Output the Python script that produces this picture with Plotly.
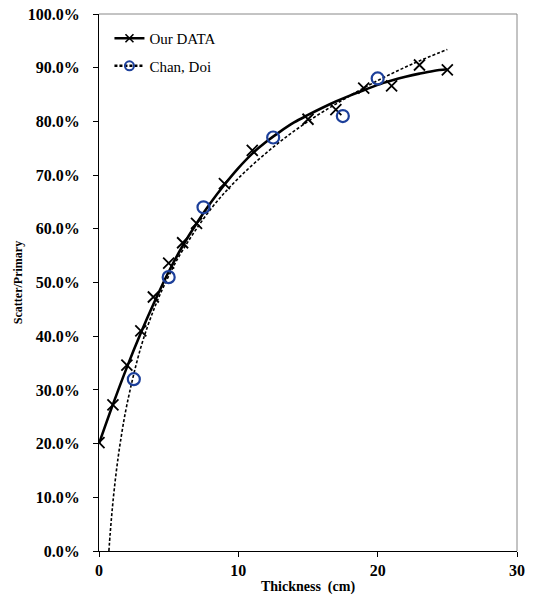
import plotly.graph_objects as go

# Our DATA measured points (thickness cm, scatter/primary %)
our_x = [0, 1, 2, 3, 3.9, 5, 6, 7, 9, 11, 15, 17, 19, 21, 23, 25]
our_y = [20.2, 27.2, 34.6, 41.0, 47.3, 53.6, 57.4, 61.0, 68.4, 74.6, 80.4, 82.2, 86.2, 86.6, 90.5, 89.6]

# Our DATA fitted curve
our_fit_x = [0, 1, 2, 3, 4, 5, 6, 7, 8, 9, 10, 11, 12, 13, 14, 15, 16, 17, 18, 19, 20, 21, 22, 23, 24, 25]
our_fit_y = [20.0, 27.3, 34.2, 40.6, 46.5, 52.0, 56.8, 61.0, 64.8, 68.2, 71.3, 74.0, 76.2,
             78.1, 79.8, 81.2, 82.5, 83.7, 84.8, 85.8, 86.8, 87.6, 88.3, 88.9, 89.4, 89.7]

# Chan, Doi points
chan_x = [2.5, 5, 7.5, 12.5, 17.5, 20]
chan_y = [32.0, 51.0, 64.0, 77.0, 81.0, 88.0]

# Chan, Doi fitted curve
chan_fit_x = [0.71, 0.8, 0.9, 1.0, 1.2, 1.5, 2, 3, 4, 5, 6, 8, 10, 12.5, 15, 17.5, 20, 22.5, 25]
chan_fit_y = [0.0, 3.2, 6.3, 9.1, 13.9, 19.7, 27.2, 37.9, 45.4, 51.2, 56.0, 63.6, 69.4, 75.2,
              80.0, 84.0, 87.6, 90.7, 93.4]

x_ticks = [0, 10, 20, 30]
y_ticks = [0, 10, 20, 30, 40, 50, 60, 70, 80, 90, 100]

BLUE = "#1c3f9a"
SERIF = "Liberation Serif, Times New Roman, serif"

fig = go.Figure()

fig.add_trace(go.Scatter(x=chan_fit_x, y=chan_fit_y, mode="lines", line_shape="spline",
                         line=dict(color="black", width=1.6, dash="3px,2px"), showlegend=False))
fig.add_trace(go.Scatter(x=our_fit_x, y=our_fit_y, mode="lines", line_shape="spline",
                         line=dict(color="black", width=2.6), showlegend=False))
fig.add_trace(go.Scatter(x=our_x, y=our_y, mode="markers",
                         marker=dict(symbol="x-thin", size=11, color="black",
                                     line=dict(color="black", width=1.8)), showlegend=False))
fig.add_trace(go.Scatter(x=chan_x, y=chan_y, mode="markers",
                         marker=dict(symbol="circle-open", size=12, color=BLUE,
                                     line=dict(color=BLUE, width=2.2)), showlegend=False))

# legend entries
fig.add_trace(go.Scatter(x=[None], y=[None], mode="lines+markers", name="Our DATA",
                         legendgroup="a",
                         line=dict(color="black", width=2.6),
                         marker=dict(symbol="x-thin", size=8, color="black",
                                     line=dict(color="black", width=1.6))))
fig.add_trace(go.Scatter(x=[None], y=[None], mode="lines+markers", name="Chan, Doi",
                         legendgroup="b",
                         line=dict(color="black", width=2.4, dash="3px,2px"),
                         marker=dict(symbol="circle-open", size=9, color=BLUE,
                                     line=dict(color=BLUE, width=2))))

fig.update_layout(
    width=533, height=596,
    margin=dict(l=99, r=16, t=14, b=45, autoexpand=False),
    paper_bgcolor="white", plot_bgcolor="white",
    font=dict(family=SERIF, color="black"),
    legend=dict(x=0.025, y=0.985, xanchor="left", yanchor="top",
                bgcolor="rgba(255,255,255,0)", font=dict(family=SERIF, size=15, color="black"),
                itemwidth=30, tracegroupgap=5),
    shapes=[
        dict(type="line", xref="paper", yref="paper", x0=0, x1=1, y0=1, y1=1,
             line=dict(color="#888888", width=1)),
        dict(type="line", xref="paper", yref="paper", x0=1, x1=1, y0=0, y1=1,
             line=dict(color="#888888", width=1)),
    ],
)

fig.update_xaxes(range=[0, 30], tickvals=x_ticks, ticktext=[str(v) for v in x_ticks],
                 automargin=False, ticklabeloverflow="allow",
                 showgrid=False, zeroline=False, showline=True, linecolor="black", linewidth=1.3,
                 ticks="outside", ticklen=5, tickcolor="black",
                 tickfont=dict(family=SERIF, size=16, color="black", weight="bold"),
                 title=dict(text="<b>Thickness  (cm)</b>", font=dict(family=SERIF, size=14),
                            standoff=2))
fig.update_yaxes(range=[0, 100], tickvals=y_ticks, ticktext=[f"{v:.1f}%" for v in y_ticks],
                 automargin=False, ticklabeloverflow="allow",
                 showgrid=False, zeroline=False, showline=True, linecolor="black", linewidth=1.3,
                 ticks="outside", ticklen=5, tickcolor="black", ticklabelstandoff=10,
                 tickfont=dict(family=SERIF, size=16, color="black", weight="bold"),
                 title=dict(text="<b>Scatter/Primary</b>", font=dict(family=SERIF, size=12),
                            standoff=2))

fig.write_html("out.html", config={"displayModeBar": False},
               post_script="document.body.style.margin='0';")
